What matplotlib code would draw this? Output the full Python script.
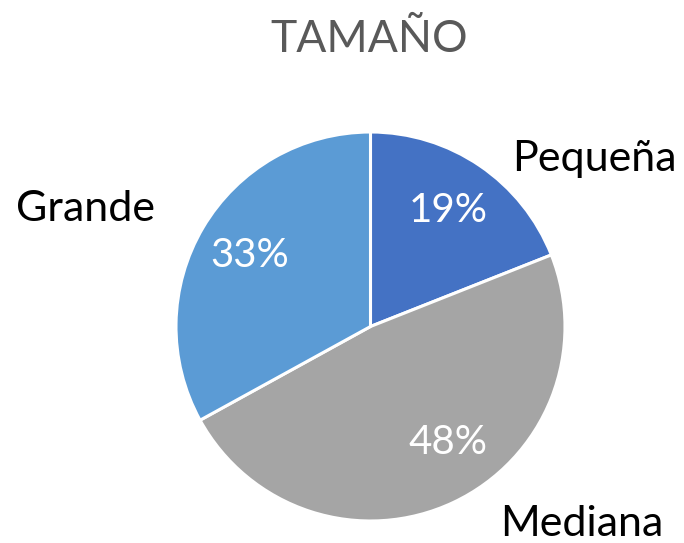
import matplotlib
matplotlib.use("Agg")
import matplotlib.pyplot as plt

# Data
categories = ["Pequeña", "Mediana", "Grande"]
values = [19, 48, 33]
pct_labels = ["19%", "48%", "33%"]
colors = ["#4472C4", "#A5A5A5", "#5B9BD5"]
title = "TAMAÑO"

W, H = 684, 543
cx, cy, R = 370.5, 326.5, 194.5  # pie centre / radius in pixels

plt.rcParams["font.family"] = ["Lato", "DejaVu Sans"]

fig = plt.figure(figsize=(W / 100, H / 100), dpi=100)
ax = fig.add_axes([0, 0, 1, 1])

wedges, _ = ax.pie(values, colors=colors, startangle=90, counterclock=False,
                   radius=1.0,
                   wedgeprops=dict(edgecolor="white", linewidth=2.2))
ax.set_aspect("auto")
ax.set_xlim(-cx / R, (W - cx) / R)
ax.set_ylim(-(H - cy) / R, cy / R)
ax.axis("off")


def px(x, y):
    """pixel (from top-left) -> data coords"""
    return (x - cx) / R, (cy - y) / R


# Percent labels (white, inside slices)
pct_pos = [(448, 222), (447.5, 454), (250, 267)]
for lab, (x, y) in zip(pct_labels, pct_pos):
    ax.text(*px(x, y), lab, color="white", fontsize=29, ha="center", va="baseline")

# Category labels (outside)
cat_pos = [(594.5, 171), (581.5, 536), (85, 221)]
for lab, (x, y) in zip(categories, cat_pos):
    ax.text(*px(x, y), lab, color="black", fontsize=31, ha="center", va="baseline")

# Title
ax.text(*px(369, 52), title, color="#595959", fontsize=32, ha="center", va="baseline")

fig.savefig("out.png", dpi=100)
